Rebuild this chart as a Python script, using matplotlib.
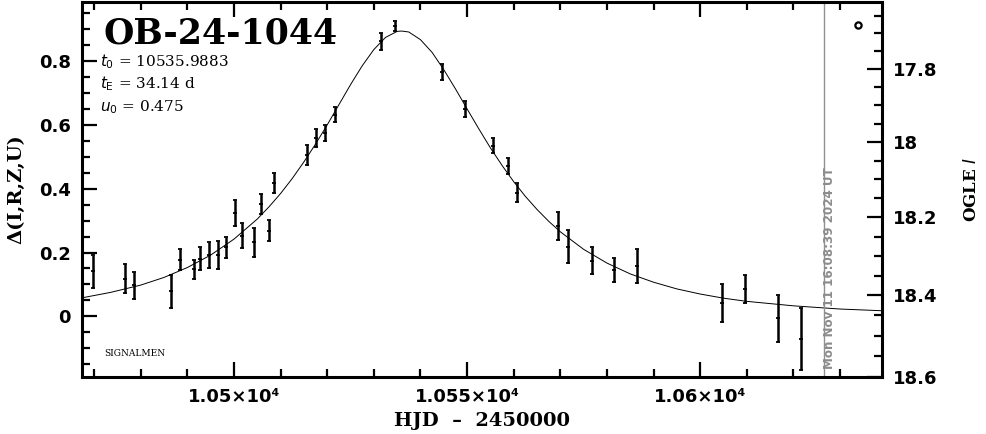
import numpy as np
import matplotlib
matplotlib.use("Agg")
import matplotlib.pyplot as plt
from matplotlib.ticker import MultipleLocator, FuncFormatter

# photometry points (HJD - 2450000, delta mag, error)
hjd = [10469.7, 10476.7, 10478.6, 10486.4, 10488.5, 10491.5, 10492.8, 10494.6,
       10496.6, 10498.3, 10500.3, 10501.8, 10504.4, 10505.7, 10507.6, 10508.6,
       10515.6, 10517.6, 10519.5, 10521.7, 10531.5, 10534.5, 10544.6, 10549.6,
       10555.6, 10558.7, 10560.7, 10569.5, 10571.7, 10576.7, 10581.6, 10586.5,
       10604.7, 10609.7, 10616.7, 10621.7]
delta = [0.141, 0.118, 0.097, 0.079, 0.178, 0.147, 0.181, 0.191,
         0.192, 0.217, 0.323, 0.253, 0.232, 0.352, 0.268, 0.417,
         0.506, 0.558, 0.576, 0.632, 0.862, 0.911, 0.766, 0.649,
         0.535, 0.470, 0.387, 0.283, 0.218, 0.174, 0.145, 0.158,
         0.041, 0.086, -0.006, -0.071]
err = [0.051, 0.045, 0.043, 0.052, 0.033, 0.031, 0.035, 0.041,
       0.044, 0.033, 0.041, 0.040, 0.045, 0.032, 0.033, 0.031,
       0.032, 0.028, 0.025, 0.023, 0.026, 0.016, 0.024, 0.025,
       0.023, 0.025, 0.030, 0.045, 0.052, 0.042, 0.038, 0.052,
       0.059, 0.045, 0.074, 0.097]

# model curve
model_t = [10467, 10473.5, 10480, 10485, 10490, 10495, 10500, 10505, 10507.5,
           10510, 10512.5, 10515, 10517.5, 10520, 10522.5, 10525, 10527.5,
           10530, 10532.5, 10535, 10536, 10537.5, 10540, 10542.5, 10545,
           10547.5, 10550, 10552.5, 10555, 10557.5, 10560, 10562.5, 10565,
           10567.5, 10570, 10575, 10580, 10585, 10590, 10595, 10600, 10605,
           10610, 10620, 10630, 10640]
model_d = [0.057, 0.075, 0.098, 0.122, 0.153, 0.192, 0.242, 0.305, 0.343,
           0.385, 0.432, 0.484, 0.540, 0.600, 0.663, 0.726, 0.785,
           0.836, 0.874, 0.893, 0.894, 0.891, 0.867, 0.827, 0.773,
           0.713, 0.650, 0.588, 0.528, 0.473, 0.422, 0.376, 0.335,
           0.298, 0.265, 0.210, 0.167, 0.133, 0.107, 0.086, 0.070, 0.057,
           0.047, 0.033, 0.023, 0.017]

event = "OB-24-1044"
params = [r"$t_0$ = 10535.9883", r"$t_{\rm E}$ = 34.14 d", r"$u_0$ = 0.475"]
stamp = "Mon Nov 11 16:08:39 2024 UT"
now_t = 10626.5

mag_major = [17.8, 18.0, 18.2, 18.4, 18.6]
mag_labels = ["17.8", "18", "18.2", "18.4", "18.6"]
I_BASE = 18.451
F_BLEND = 0.21


def mag_to_delta(m):
    m = np.asarray(m)
    return 2.5 * np.log10((10 ** (-0.4 * (m - I_BASE)) - F_BLEND) / (1 - F_BLEND))


fig = plt.figure(figsize=(9.86, 4.34), dpi=100)
ax = fig.add_axes([82 / 986, 1 - 377 / 434, 800 / 986, 375 / 434])

ax.plot(model_t, model_d, color="black", lw=0.7)
ax.errorbar(hjd, delta, yerr=err, fmt="none", ecolor="black", elinewidth=1.8,
            capsize=1.5, capthick=1.3)
ax.plot(hjd, delta, "_", color="black", ms=3, mew=1.3)
ax.axvline(now_t, color="#909090", lw=1)

ax.set_xlim(10467.4, 10639)
ax.set_ylim(-0.19, 0.985)

ax.xaxis.set_major_locator(MultipleLocator(50))
ax.xaxis.set_minor_locator(MultipleLocator(10))
ax.yaxis.set_major_locator(MultipleLocator(0.2))
ax.yaxis.set_minor_locator(MultipleLocator(0.05))


def xfmt(v, pos):
    return "%g×10⁴" % (v / 1e4)


def yfmt(v, pos):
    if abs(v) < 1e-9:
        return "0"
    return "%g" % v


ax.xaxis.set_major_formatter(FuncFormatter(xfmt))
ax.yaxis.set_major_formatter(FuncFormatter(yfmt))
ax.tick_params(which="both", direction="in", top=True, right=False, width=1.6)
ax.tick_params(which="major", length=11, labelsize=13, pad=8)
ax.tick_params(which="minor", length=5.5)
for lab in ax.get_xticklabels() + ax.get_yticklabels():
    lab.set_fontweight("bold")
for s in ax.spines.values():
    s.set_linewidth(2.2)

ax2 = ax.twinx()
ax2.set_ylim(ax.get_ylim())
ax2.set_yticks(mag_to_delta(mag_major))
ax2.set_yticklabels(mag_labels, fontsize=13, fontweight="bold")
mag_minor = [m for m in np.round(np.arange(17.65, 18.6, 0.05), 2) if m not in mag_major]
ax2.set_yticks(mag_to_delta(mag_minor), minor=True)
ax2.tick_params(which="both", direction="in", width=1.6)
ax2.tick_params(which="major", length=11, pad=8)
ax2.tick_params(which="minor", length=5.5)
ax2.set_ylabel("OGLE $\\mathit{I}$", fontsize=12, fontweight="bold", family="DejaVu Serif",
               labelpad=18)

ax.set_xlabel("HJD  –  2450000", fontsize=14, fontweight="bold", family="DejaVu Serif",
              labelpad=4)
ax.set_ylabel("Δ(I,R,Z,U)", fontsize=14, fontweight="bold", family="DejaVu Serif",
              labelpad=10)

ax.text(0.027, 0.96, event, transform=ax.transAxes, fontsize=25, fontweight="bold",
        family="DejaVu Serif", va="top", ha="left")
for i, p in enumerate(params):
    ax.text(0.023, 0.842 - i * 0.061, p, transform=ax.transAxes, fontsize=11,
            family="DejaVu Serif", va="center", ha="left")
ax.text(0.028, 0.062, "SIGNALMEN", transform=ax.transAxes, fontsize=6.5,
        family="DejaVu Serif", va="center", ha="left")
ax.text(now_t + 1.2, -0.165, stamp, rotation=90, color="#8c8c8c", fontsize=8.6,
        fontweight="bold", va="bottom", ha="center")
ax.plot([0.97], [0.939], "o", transform=ax.transAxes, ms=4.5, mfc="white",
        mec="black", mew=1.6)

fig.savefig("out.png", dpi=100)
